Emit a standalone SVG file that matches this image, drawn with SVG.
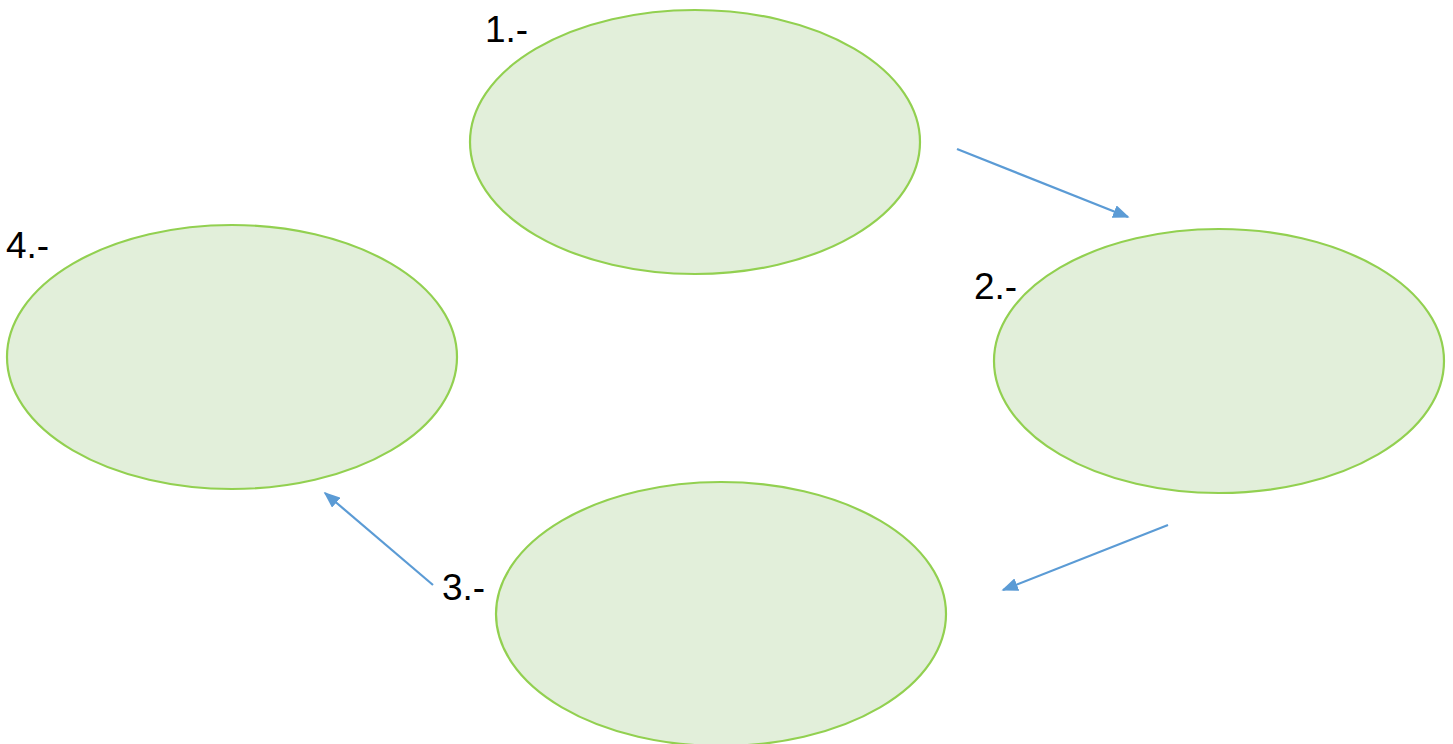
<svg xmlns="http://www.w3.org/2000/svg" width="1453" height="744" viewBox="0 0 1453 744">
<style>
.node{fill:#E2EFDA;stroke:#92D050;stroke-width:2.2}
.lbl{font-family:"Liberation Sans",Arial,sans-serif;font-size:37px;fill:#000}
.conn{stroke:#5B9BD5;stroke-width:2.2;fill:none;marker-end:url(#ah)}
</style>
<defs>
<marker id="ah" viewBox="0 0 10 10" refX="9" refY="5" markerWidth="7.5" markerHeight="6" orient="auto" markerUnits="strokeWidth" preserveAspectRatio="none">
<path d="M0,0 L10,5 L0,10 z" fill="#5B9BD5"/>
</marker>
</defs>
<rect width="1453" height="744" fill="#fff"/>
<g id="node1"><ellipse class="node" cx="695" cy="142" rx="225" ry="132"/><text class="lbl" x="485" y="42">1.-</text></g>
<g id="node2"><ellipse class="node" cx="1219" cy="361" rx="225" ry="132"/><text class="lbl" x="974" y="299">2.-</text></g>
<g id="node3"><ellipse class="node" cx="721" cy="614" rx="225" ry="132"/><text class="lbl" x="442" y="600">3.-</text></g>
<g id="node4"><ellipse class="node" cx="232" cy="357" rx="225" ry="132"/><text class="lbl" x="6" y="258">4.-</text></g>
<g id="connectors">
<line class="conn" x1="957" y1="149" x2="1128" y2="217"/>
<line class="conn" x1="1168" y1="525" x2="1003" y2="590"/>
<line class="conn" x1="433" y1="585" x2="325" y2="493"/>
</g>
</svg>
